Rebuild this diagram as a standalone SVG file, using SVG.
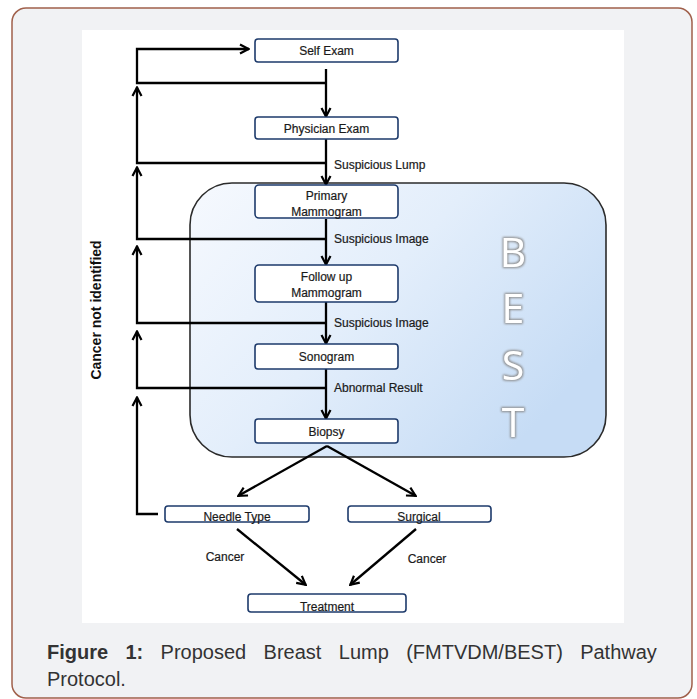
<svg xmlns="http://www.w3.org/2000/svg" width="697" height="699" viewBox="0 0 697 699">
<defs>
<linearGradient id="bestGrad" x1="0" y1="0" x2="1" y2="0.6">
<stop offset="0" stop-color="#f6f9fe"/>
<stop offset="0.5" stop-color="#e3eefb"/>
<stop offset="1" stop-color="#c6dcf5"/>
</linearGradient>
<marker id="ah" viewBox="0 0 12 12" refX="11" refY="6" markerWidth="12" markerHeight="12" markerUnits="userSpaceOnUse" orient="auto">
<path d="M2,1.5 L10.5,6 L2,10.5" fill="none" stroke="#000" stroke-width="2.2" stroke-linejoin="miter"/>
</marker>
<filter id="glow" x="-30%" y="-30%" width="160%" height="160%">
<feMorphology in="SourceAlpha" operator="dilate" radius="1" result="d"/>
<feGaussianBlur in="d" stdDeviation="1" result="b"/>
<feFlood flood-color="#8c8c8c"/>
<feComposite in2="b" operator="in" result="g"/>
<feMerge><feMergeNode in="g"/><feMergeNode in="SourceGraphic"/></feMerge>
</filter>
</defs>
<style>
.box{fill:#fff;stroke:#1d3a6b;stroke-width:1.6}
.nt{font-family:"Liberation Sans",Arial,sans-serif;font-size:12px;fill:#1a1a1a;stroke:#1a1a1a;stroke-width:0.2;text-anchor:middle}
.lb{font-family:"Liberation Sans",Arial,sans-serif;font-size:12px;fill:#1a1a1a;stroke:#1a1a1a;stroke-width:0.2}
.ln{fill:none;stroke:#000;stroke-width:2.3}
.best{font-family:"Open Sans","Liberation Sans",sans-serif;font-size:41px;fill:#fff;text-anchor:middle;filter:url(#glow)}
.cap{font-family:"Liberation Sans",Arial,sans-serif;font-size:20px;fill:#333}
</style>
<rect x="12" y="8" width="680" height="690" rx="14" fill="#f1f2f4" stroke="#a0604b" stroke-width="1.5"/>
<rect x="82" y="30" width="542" height="593" fill="#fff"/>
<g id="best-region">
<rect x="190" y="183" width="416" height="274" rx="42" fill="url(#bestGrad)" stroke="#2b2b2b" stroke-width="1.6"/>
<text class="best" x="513" y="267">B</text>
<text class="best" x="513" y="323">E</text>
<text class="best" x="513" y="380">S</text>
<text class="best" x="513" y="437">T</text>
</g>
<g id="connectors">
<path class="ln" d="M326,69 V117" marker-end="url(#ah)"/>
<path class="ln" d="M326,139 V185" marker-end="url(#ah)"/>
<path class="ln" d="M326,219 V265" marker-end="url(#ah)"/>
<path class="ln" d="M326,302 V344" marker-end="url(#ah)"/>
<path class="ln" d="M326,369 V419" marker-end="url(#ah)"/>
<path class="ln" d="M327,446 L238,496" marker-end="url(#ah)"/>
<path class="ln" d="M327,446 L416,496" marker-end="url(#ah)"/>
<path class="ln" d="M237,529 L306,585" marker-end="url(#ah)"/>
<path class="ln" d="M416,529 L350,585" marker-end="url(#ah)"/>
<path class="ln" d="M326,83 H137 V49 H249" marker-end="url(#ah)"/>
<path class="ln" d="M326,163 H137 V87" marker-end="url(#ah)"/>
<path class="ln" d="M326,239 H137 V167" marker-end="url(#ah)"/>
<path class="ln" d="M326,323 H137 V246" marker-end="url(#ah)"/>
<path class="ln" d="M326,388 H137 V331" marker-end="url(#ah)"/>
<path class="ln" d="M158,514 H137 V397" marker-end="url(#ah)"/>
<text class="lb" x="334" y="169">Suspicious Lump</text>
<text class="lb" x="334" y="243">Suspicious Image</text>
<text class="lb" x="334" y="327">Suspicious Image</text>
<text class="lb" x="334" y="392">Abnormal Result</text>
<text class="nt" x="225" y="561">Cancer</text>
<text class="nt" x="427" y="563">Cancer</text>
</g>
<g id="self-exam"><rect class="box" x="255" y="39" width="143" height="23" rx="3"/><text class="nt" x="326.5" y="55">Self Exam</text></g>
<g id="physician-exam"><rect class="box" x="255" y="117" width="143" height="22" rx="3"/><text class="nt" x="326.5" y="133">Physician Exam</text></g>
<g id="primary-mammogram"><rect class="box" x="255" y="185" width="143" height="33" rx="4"/><text class="nt" x="326.5" y="200">Primary</text><text class="nt" x="326.5" y="216">Mammogram</text></g>
<g id="follow-up-mammogram"><rect class="box" x="255" y="265" width="143" height="37" rx="4"/><text class="nt" x="326.5" y="281">Follow up</text><text class="nt" x="326.5" y="297">Mammogram</text></g>
<g id="sonogram"><rect class="box" x="255" y="344" width="143" height="25" rx="3"/><text class="nt" x="326.5" y="361">Sonogram</text></g>
<g id="biopsy"><rect class="box" x="255" y="419" width="143" height="24" rx="3"/><text class="nt" x="326.5" y="436">Biopsy</text></g>
<g id="needle-type"><rect class="box" x="165" y="506" width="144" height="16" rx="3"/><text class="nt" x="237" y="521">Needle Type</text></g>
<g id="surgical"><rect class="box" x="348" y="506" width="143" height="16" rx="3"/><text class="nt" x="419" y="521">Surgical</text></g>
<g id="treatment"><rect class="box" x="248" y="594" width="158" height="18" rx="3"/><text class="nt" x="327" y="611">Treatment</text></g>
<text transform="translate(101,310) rotate(-90)" font-family="Liberation Sans, Arial, sans-serif" font-size="14" font-weight="bold" fill="#111" text-anchor="middle">Cancer not identified</text>
<text class="cap" x="47" y="659" word-spacing="11.8"><tspan font-weight="bold">Figure 1:</tspan> Proposed Breast Lump (FMTVDM/BEST) Pathway</text>
<text class="cap" x="47" y="686">Protocol.</text>
</svg>
